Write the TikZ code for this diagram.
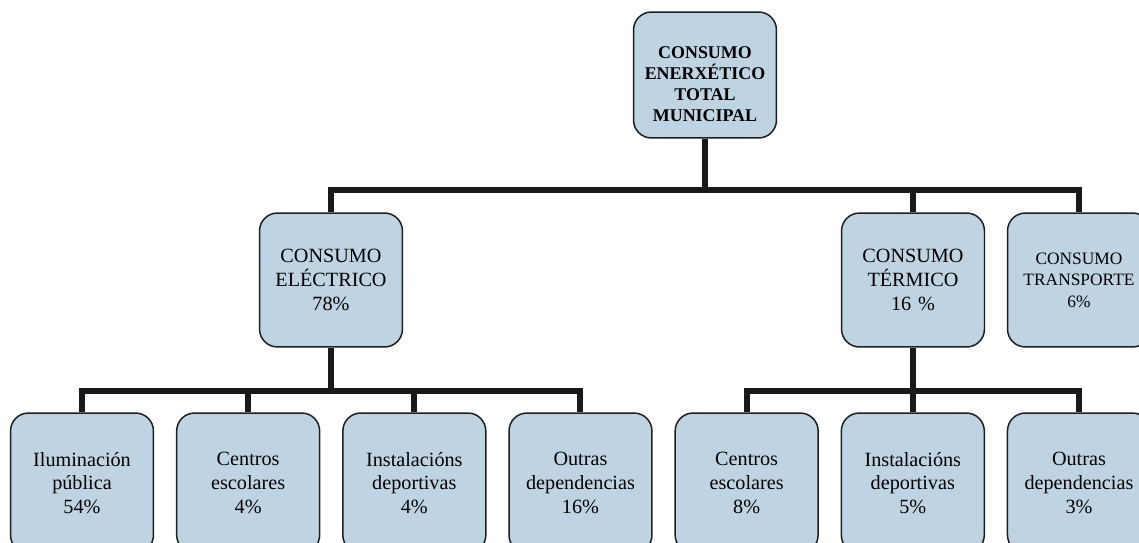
\documentclass[tikz,border=0pt]{standalone}
\usepackage{fontspec}
\setmainfont{Liberation Serif}
\usetikzlibrary{positioning}

\definecolor{boxblue}{RGB}{190,212,226}
\definecolor{boxline}{RGB}{30,30,30}

\begin{document}
\begin{tikzpicture}[x=0.02cm, y=-0.02cm,
    box/.style={draw=boxline, line width=0.85pt, fill=boxblue, rounded corners=0.36cm,
        minimum width=2.86cm, minimum height=2.68cm, text width=2.7cm, align=center,
        inner sep=0pt, font=\fontsize{11.5}{13.6}\selectfont},
    leafbox/.style={box, minimum height=2.8cm},
    link/.style={line width=0.12cm, draw=black!90},
    node distance=0.434cm]
    \path[use as bounding box, clip] (0,0) rectangle (1139,542);

    % top level
    \node[box, minimum height=2.52cm, font=\bfseries\fontsize{10.2}{11.9}\selectfont] (total) at (705,75)
        {\rule{0pt}{17pt}CONSUMO\\ENERXÉTICO\\TOTAL\\MUNICIPAL};

    % second level
    \node[box] (elec) at (331,280) {CONSUMO\\ELÉCTRICO\\78\%};
    \node[box] (term) at (913,280) {CONSUMO\\TÉRMICO\\16 \%};
    \node[box, font=\fontsize{9.9}{12.2}\selectfont] (transp) at (1079,280)
        {CONSUMO\\TRANSPORTE\\6\%\\[8pt]};

    % third level
    \node[leafbox] (ilum) at (82,483) {Iluminación\\pública\\54\%};
    \node[leafbox] (centrosA) [right=of ilum] {Centros\\escolares\\4\%};
    \node[leafbox] (instA) [right=of centrosA] {Instalacións\\deportivas\\4\%};
    \node[leafbox] (outrasA) [right=of instA] {Outras\\dependencias\\16\%};
    \node[leafbox] (centrosB) [right=of outrasA] {Centros\\escolares\\8\%};
    \node[leafbox] (instB) [right=of centrosB] {Instalacións\\deportivas\\5\%};
    \node[leafbox] (outrasB) [right=of instB] {Outras\\dependencias\\3\%};

    % connectors
    \coordinate (topbar) at (705,190);
    \coordinate (elecbar) at (331,391);
    \coordinate (termbar) at (913,391);

    \draw[link] (total.south) -- (topbar);
    \draw[link] (elec.north) |- (topbar) -| (transp.north);
    \draw[link] (term.north) -- (term.north |- topbar);

    \draw[link] (elec.south) -- (elecbar);
    \draw[link] (ilum.north) |- (elecbar) -| (outrasA.north);
    \draw[link] (centrosA.north) -- (centrosA.north |- elecbar);
    \draw[link] (instA.north) -- (instA.north |- elecbar);

    \draw[link] (term.south) -- (termbar);
    \draw[link] (centrosB.north) |- (termbar) -| (outrasB.north);
    \draw[link] (instB.north) -- (instB.north |- termbar);
\end{tikzpicture}
\end{document}
